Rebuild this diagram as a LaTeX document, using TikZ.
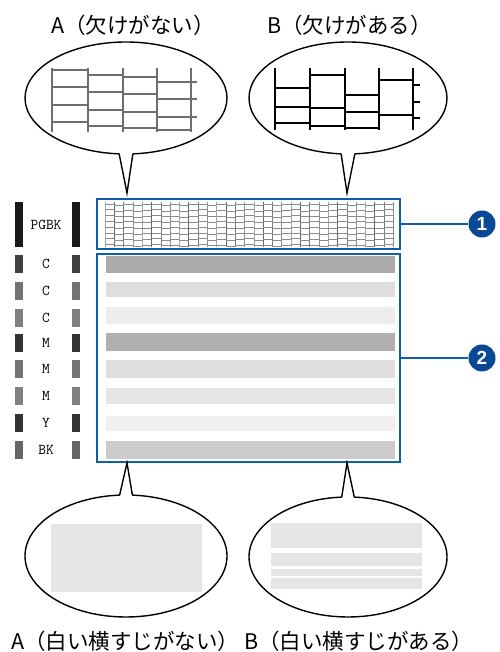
\documentclass[tikz,border=0pt]{standalone}
\usepackage{fontspec}
\usepackage{tikz}
\usetikzlibrary{shapes.geometric,calc,positioning}
\newfontfamily\jpfont{Noto Sans CJK JP}
\newfontfamily\numfont{Liberation Sans}
\definecolor{pBlue}{RGB}{14,94,170}
\definecolor{pNavy}{RGB}{8,72,148}
\definecolor{pGridA}{RGB}{110,110,110}
\colorlet{pBand}{black!10}

\begin{document}
\begin{tikzpicture}[x=1pt,y=1pt,
    bubble/.style={ellipse,draw,line width=1.4pt,fill=white,inner sep=0pt,outer sep=0pt},
    tailline/.style={line width=1.4pt,line join=miter},
    caption/.style={font=\jpfont\fontsize{21.5}{24}\selectfont,inner sep=0pt,anchor=west},
    chkbox/.style={draw=pBlue,line width=2pt,inner sep=0pt,outer sep=0pt},
    numdot/.style={circle,fill=pNavy,text=white,minimum size=27pt,inner sep=0pt,
      font=\numfont\bfseries\fontsize{19}{19}\selectfont},
    inklbl/.style={font=\ttfamily\fontsize{15}{15}\selectfont,inner sep=0pt},
    gridA/.style={pGridA,line width=2.6pt},
    gridB/.style={black,line width=2.8pt},
    fineln/.style={black!45,line width=0.6pt}]
\useasboundingbox (0,0) rectangle (499,652);

% captions
\node[caption] (capA) at (51,627) {A（欠けがない）};
\node[caption] (capB) at (267,627) {B（欠けがある）};
\node[caption] (capC) at (11,11) {A（白い横すじがない）};
\node[caption] (capD) at (244,11) {B（白い横すじがある）};

% check pattern
\node[chkbox,minimum width=303pt,minimum height=50pt] (box1) at (248.5,428) {};
\node[chkbox,minimum width=303pt,minimum height=208pt] (box2) at (248.5,294) {};

\foreach \i in {0,...,30} {
  \pgfmathsetmacro\xa{105+9.3*\i}
  \pgfmathsetmacro\dy{mod(\i*3,5)*0.35}
  \pgfmathtruncatemacro\sh{35+mod(\i*7,4)*8}
  \draw[fineln,black!\sh] (\xa,405) -- (\xa,450);
  \foreach \j in {0,...,7}
    \draw[fineln] (\xa,448-\dy-5.8*\j) -- (\xa+9.3,448-\dy-5.8*\j);
}
\draw[fineln] (393.3,405) -- (393.3,450);

\foreach \ya/\yb/\s in {396/379/33, 370/355/13, 345/328/7, 319/301/31,
                        292/274/13, 264/248/10, 236/221/6, 211/193/20}
  \fill[black!\s] (106,\ya) rectangle (395,\yb);

% ink labels
\fill[black!90] (15,405) rectangle (23,450);
\fill[black!90] (72,405) rectangle (80,450);
\node[inklbl] (inkPGBK) at (46,427) {PGBK};
\foreach \y/\t/\s [count=\n] in {388/C/75, 361/C/55, 334/C/50, 309/M/80,
                                 283/M/55, 256/M/50, 229/Y/80, 202/BK/60} {
  \fill[black!\s] (15,\y-9) rectangle (23,\y+9);
  \fill[black!\s] (72,\y-9) rectangle (80,\y+9);
  \node[inklbl] (ink\n) at (46,\y) {\t};
}

% numbers
\node[numdot] (num1) at (482,428) {1};
\node[numdot] (num2) at (482,294) {2};
\draw[pBlue,line width=1.6pt] (box1.east) -- (num1.west);
\draw[pBlue,line width=1.6pt] (box2.east) -- (num2.west);

% upper bubbles
\node[bubble,minimum width=202pt,minimum height=112pt] (bubA) at (126,554) {};
\node[bubble,minimum width=198pt,minimum height=112pt] (bubB) at (348,554) {};
\coordinate (tipA) at (127,459);
\coordinate (tipB) at (347,459);
\fill[white] ([yshift=1.5pt]bubA.263) -- (tipA) -- ([yshift=1.5pt]bubA.277) -- cycle;
\draw[tailline] (bubA.263) -- (tipA) -- (bubA.277);
\fill[white] ([yshift=1.5pt]bubB.263) -- (tipB) -- ([yshift=1.5pt]bubB.277) -- cycle;
\draw[tailline] (bubB.263) -- (tipB) -- (bubB.277);

% grid without gaps
\foreach \x in {52,88,123,157,191}
  \draw[gridA] (\x,520) -- (\x,584);
\foreach \y in {582,565,547,530} \draw[gridA] (52,\y) -- (88,\y);
\foreach \y in {577,560,542,526} \draw[gridA] (88,\y) -- (123,\y);
\foreach \y in {575,558,540,524} \draw[gridA] (123,\y) -- (157,\y);
\foreach \y in {570,553,535,522} \draw[gridA] (157,\y) -- (191,\y);
\foreach \y in {570,553,535} \draw[gridA] (191,\y) -- (197,\y);

% grid with gaps
\foreach \x in {275,310,345,379,413}
  \draw[gridB] (\x,522) -- (\x,584);
\foreach \y in {564,545,529} \draw[gridB] (275,\y) -- (310,\y);
\foreach \y in {577,544,526} \draw[gridB] (310,\y) -- (345,\y);
\foreach \y in {557,540,524} \draw[gridB] (345,\y) -- (379,\y);
\foreach \y in {572,537} \draw[gridB] (379,\y) -- (413,\y);
\foreach \y in {567,550,534} \draw[gridB] (413,\y) -- (420,\y);

% lower bubbles
\node[bubble,minimum width=202pt,minimum height=122pt] (bubC) at (126,96) {};
\node[bubble,minimum width=198pt,minimum height=120pt] (bubD) at (348,95) {};
\coordinate (tipC) at (127,189);
\coordinate (tipD) at (347,189);
\fill[white] ([yshift=-1.5pt]bubC.84) -- (tipC) -- ([yshift=-1.5pt]bubC.96) -- cycle;
\draw[tailline] (bubC.84) -- (tipC) -- (bubC.96);
\fill[white] ([yshift=-1.5pt]bubD.84) -- (tipD) -- ([yshift=-1.5pt]bubD.96) -- cycle;
\draw[tailline] (bubD.84) -- (tipD) -- (bubD.96);

\fill[pBand] (51,60) rectangle (202,128);
\foreach \ya/\yb in {129/104, 99/86, 83/76, 74/63}
  \fill[pBand] (271,\ya) rectangle (422,\yb);
\end{tikzpicture}
\end{document}
